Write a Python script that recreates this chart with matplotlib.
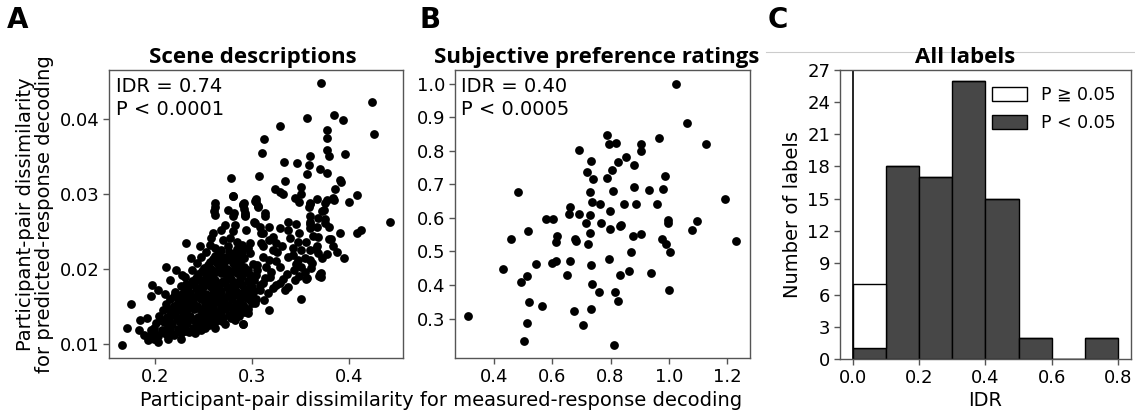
import numpy as np
import matplotlib
matplotlib.use("Agg")
import matplotlib.pyplot as plt
from matplotlib.patches import Patch
from matplotlib.lines import Line2D

plt.rcParams['font.family'] = ['DejaVu Sans', 'Noto Sans CJK JP']

# --- panel A: scene descriptions ---
scene_pts = [
    # sparse upper / right points
    (0.371, 0.0448), (0.4245, 0.0423), (0.426, 0.0380), (0.443, 0.0262), (0.357, 0.0401),
    (0.385, 0.0405), (0.394, 0.0399), (0.329, 0.0390), (0.312, 0.0373), (0.310, 0.0355),
    (0.378, 0.0385), (0.378, 0.0375), (0.378, 0.0359), (0.380, 0.0350), (0.396, 0.0353),
    (0.360, 0.0350), (0.359, 0.0338), (0.357, 0.0327), (0.370, 0.0333), (0.377, 0.0328),
    (0.333, 0.0342), (0.346, 0.0341), (0.334, 0.0317), (0.351, 0.0309), (0.278, 0.0321),
    (0.307, 0.0324), (0.324, 0.0306), (0.329, 0.0303), (0.332, 0.0300), (0.344, 0.0294),
    (0.349, 0.0289), (0.280, 0.0297), (0.360, 0.0288), (0.367, 0.0293), (0.377, 0.0292),
    (0.384, 0.0295), (0.391, 0.0318), (0.386, 0.0307), (0.408, 0.0299), (0.400, 0.0289),
    (0.262, 0.0288), (0.261, 0.0277), (0.292, 0.0288), (0.293, 0.0275), (0.304, 0.0293),
    (0.313, 0.0274), (0.372, 0.0277), (0.375, 0.0266), (0.360, 0.0270), (0.360, 0.0260),
    (0.368, 0.0268), (0.380, 0.0240), (0.367, 0.0231), (0.408, 0.0248), (0.413, 0.0252),
    (0.349, 0.0190), (0.369, 0.0190), (0.371, 0.0194), (0.351, 0.0160), (0.334, 0.0172),
    (0.317, 0.0145), (0.291, 0.0127), (0.357, 0.0188), (0.351, 0.0300), (0.3596, 0.0286),
    (0.3585, 0.0282), (0.375, 0.0288), (0.3916, 0.0316), (0.3847, 0.0292),
    # middle arm
    (0.374, 0.0278), (0.375, 0.0261), (0.291, 0.0286), (0.292, 0.0280), (0.3044, 0.0289),
    (0.3061, 0.0284), (0.281, 0.0274), (0.2923, 0.0270), (0.302, 0.0263), (0.3138, 0.0270),
    (0.282, 0.0259), (0.280, 0.0250), (0.2768, 0.0241), (0.294, 0.0252), (0.308, 0.0256),
    (0.318, 0.0256), (0.3286, 0.0254), (0.337, 0.0263), (0.3458, 0.0260), (0.337, 0.0252),
    (0.3485, 0.0248), (0.3596, 0.0263), (0.3596, 0.0254), (0.367, 0.0256), (0.363, 0.0244),
    (0.3813, 0.0240), (0.3389, 0.0241), (0.3475, 0.0236), (0.3562, 0.0236), (0.3423, 0.0228),
    (0.351, 0.0225), (0.3596, 0.0225), (0.368, 0.0221), (0.3371, 0.0216), (0.3475, 0.0212),
    (0.3596, 0.0212), (0.351, 0.0203), (0.3613, 0.0201), (0.3562, 0.0187), (0.370, 0.0193),
    (0.3717, 0.0189), (0.344, 0.0185), (0.332, 0.0187), (0.3371, 0.0176),
    (0.3113, 0.0248), (0.3216, 0.0243), (0.2975, 0.0234), (0.3113, 0.0230), (0.3216, 0.0225),
    (0.2975, 0.0221), (0.3113, 0.0216), (0.325, 0.0211), (0.2872, 0.0211), (0.301, 0.0207),
    (0.3148, 0.0203), (0.3286, 0.0203), (0.2906, 0.0194), (0.3044, 0.0192), (0.3182, 0.0189),
    (0.2837, 0.0181), (0.2975, 0.0181), (0.3113, 0.0181), (0.325, 0.0179),
    (0.300, 0.0165), (0.308, 0.0172), (0.316, 0.0168), (0.322, 0.0175), (0.329, 0.0181),
    (0.336, 0.0193), (0.343, 0.0198), (0.355, 0.0196), (0.362, 0.0208), (0.372, 0.0214),
    (0.378, 0.0220), (0.366, 0.0226), (0.355, 0.0215), (0.345, 0.0207), (0.300, 0.0155),
    (0.305, 0.0198), (0.312, 0.0158), (0.384, 0.0230), (0.391, 0.0248), (0.380, 0.0256),
    (0.368, 0.0243), (0.388, 0.0222), (0.395, 0.0215), (0.342, 0.0219), (0.331, 0.0230),
    (0.325, 0.0235), (0.318, 0.0238),
    # edge of the dense cloud
    (0.1655, 0.0098), (0.171, 0.0121), (0.1752, 0.0153), (0.1838, 0.0132), (0.1917, 0.0135),
    (0.1831, 0.0118), (0.1883, 0.0112), (0.1924, 0.0105), (0.1986, 0.0107), (0.1959, 0.0118),
    (0.1965, 0.0179), (0.1951, 0.0164), (0.2027, 0.0172), (0.2096, 0.0167), (0.2114, 0.0202),
    (0.2217, 0.0199), (0.2148, 0.0185), (0.231, 0.0189), (0.2372, 0.0214), (0.232, 0.0235),
    (0.2458, 0.0230), (0.2476, 0.0216), (0.258, 0.0241), (0.2596, 0.0248), (0.2682, 0.0252),
    (0.2717, 0.0259), (0.2803, 0.0270), (0.2751, 0.0279), (0.2613, 0.0283), (0.2613, 0.0272),
    (0.2803, 0.0297), (0.2906, 0.0285), (0.2923, 0.0272), (0.3027, 0.0290), (0.3061, 0.0283),
    (0.3027, 0.0261), (0.3096, 0.0248), (0.3096, 0.0234),
    (0.2027, 0.0103), (0.213, 0.0107), (0.2269, 0.0107), (0.2406, 0.0114), (0.2476, 0.0118),
    (0.2613, 0.0121), (0.2717, 0.0127), (0.282, 0.0132), (0.2906, 0.0127), (0.2958, 0.0141),
    (0.3027, 0.0154),
    # dense core
    (0.195, 0.0113), (0.203, 0.0111), (0.211, 0.0113), (0.219, 0.0112), (0.227, 0.0114), (0.235, 0.0116),
    (0.199, 0.0121), (0.207, 0.0119), (0.215, 0.0121), (0.223, 0.0120), (0.231, 0.0122), (0.239, 0.0121),
    (0.247, 0.0124), (0.255, 0.0125),
    (0.201, 0.0128), (0.209, 0.0129), (0.217, 0.0127), (0.225, 0.0129), (0.233, 0.0128), (0.241, 0.0130),
    (0.249, 0.0129), (0.257, 0.0131), (0.265, 0.0132),
    (0.204, 0.0137), (0.212, 0.0136), (0.220, 0.0138), (0.228, 0.0136), (0.236, 0.0137), (0.244, 0.0136),
    (0.252, 0.0138), (0.260, 0.0137), (0.268, 0.0139), (0.276, 0.0138), (0.284, 0.0140),
    (0.208, 0.0145), (0.216, 0.0143), (0.224, 0.0145), (0.232, 0.0144), (0.240, 0.0146), (0.248, 0.0144),
    (0.256, 0.0145), (0.264, 0.0143), (0.272, 0.0146), (0.280, 0.0145), (0.288, 0.0147),
    (0.211, 0.0153), (0.219, 0.0151), (0.227, 0.0152), (0.235, 0.0153), (0.243, 0.0151), (0.251, 0.0153),
    (0.259, 0.0152), (0.267, 0.0154), (0.275, 0.0152), (0.283, 0.0153), (0.291, 0.0152),
    (0.215, 0.0160), (0.223, 0.0161), (0.231, 0.0159), (0.239, 0.0161), (0.247, 0.0160), (0.255, 0.0161),
    (0.263, 0.0159), (0.271, 0.0161), (0.279, 0.0160), (0.287, 0.0162), (0.295, 0.0161),
    (0.220, 0.0169), (0.228, 0.0167), (0.236, 0.0168), (0.244, 0.0169), (0.252, 0.0167), (0.260, 0.0168),
    (0.268, 0.0170), (0.276, 0.0168), (0.284, 0.0169), (0.292, 0.0170), (0.300, 0.0176),
    (0.226, 0.0177), (0.234, 0.0176), (0.242, 0.0175), (0.250, 0.0177), (0.258, 0.0176), (0.266, 0.0178),
    (0.274, 0.0176), (0.282, 0.0177), (0.290, 0.0178),
    (0.238, 0.0184), (0.246, 0.0185), (0.254, 0.0183), (0.262, 0.0185), (0.270, 0.0184), (0.278, 0.0186),
    (0.288, 0.0187),
    (0.244, 0.0193), (0.252, 0.0191), (0.260, 0.0192), (0.268, 0.0194), (0.276, 0.0192), (0.284, 0.0194),
    (0.250, 0.0201), (0.258, 0.0200), (0.266, 0.0202), (0.274, 0.0200), (0.282, 0.0202), (0.292, 0.0203),
    (0.256, 0.0209), (0.264, 0.0208), (0.272, 0.0210), (0.280, 0.0208), (0.288, 0.0210),
    (0.262, 0.0217), (0.270, 0.0216), (0.278, 0.0218), (0.286, 0.0216),
    (0.268, 0.0225), (0.276, 0.0223), (0.284, 0.0226),
    # points between core rows
    (0.199, 0.0116), (0.215, 0.0116), (0.231, 0.0117), (0.206, 0.0132), (0.222, 0.0133),
    (0.238, 0.0133), (0.254, 0.0134), (0.270, 0.0135), (0.212, 0.0148), (0.228, 0.0149),
    (0.244, 0.0148), (0.260, 0.0149), (0.276, 0.0150), (0.292, 0.0149), (0.219, 0.0164),
    (0.235, 0.0165), (0.251, 0.0164), (0.267, 0.0165), (0.283, 0.0166), (0.297, 0.0167),
    (0.232, 0.0180), (0.248, 0.0181), (0.264, 0.0181), (0.280, 0.0182), (0.296, 0.0184),
    (0.256, 0.0196), (0.272, 0.0197), (0.288, 0.0198), (0.268, 0.0212), (0.284, 0.0213),
    (0.207, 0.0116), (0.223, 0.0117), (0.243, 0.0118), (0.251, 0.0121),
    (0.213, 0.0124), (0.229, 0.0125), (0.245, 0.0126), (0.261, 0.0128), (0.269, 0.0130),
    (0.214, 0.0132), (0.230, 0.0132), (0.246, 0.0133), (0.262, 0.0134), (0.278, 0.0135), (0.286, 0.0137),
    (0.216, 0.0140), (0.232, 0.0141), (0.248, 0.0140), (0.264, 0.0141), (0.280, 0.0141), (0.292, 0.0143),
    (0.220, 0.0148), (0.236, 0.0149), (0.252, 0.0148), (0.268, 0.0149), (0.284, 0.0150),
    (0.223, 0.0156), (0.239, 0.0157), (0.255, 0.0156), (0.271, 0.0157), (0.287, 0.0157), (0.298, 0.0158),
    (0.227, 0.0164), (0.243, 0.0164), (0.259, 0.0163), (0.275, 0.0164), (0.291, 0.0165),
    (0.231, 0.0172), (0.247, 0.0172), (0.263, 0.0173), (0.279, 0.0172), (0.295, 0.0173),
    (0.240, 0.0180), (0.256, 0.0180), (0.272, 0.0181), (0.288, 0.0181), (0.302, 0.0185),
    (0.242, 0.0188), (0.258, 0.0188), (0.274, 0.0189), (0.290, 0.0190),
    (0.248, 0.0197), (0.264, 0.0197), (0.280, 0.0197), (0.296, 0.0198),
    (0.254, 0.0205), (0.270, 0.0205), (0.286, 0.0206),
    (0.260, 0.0213), (0.276, 0.0213), (0.292, 0.0214),
    (0.266, 0.0221), (0.282, 0.0221), (0.290, 0.0223),
    (0.252, 0.0222), (0.243, 0.0208), (0.238, 0.0198), (0.228, 0.0192), (0.256, 0.0232),
    (0.270, 0.0238), (0.284, 0.0236), (0.296, 0.0228), (0.290, 0.0232), (0.275, 0.0231),
    (0.262, 0.0228), (0.296, 0.0146), (0.304, 0.0160), (0.308, 0.0178), (0.302, 0.0170),
    (0.313, 0.0188), (0.298, 0.0192), (0.305, 0.0205), (0.320, 0.0196), (0.318, 0.0212),
    (0.326, 0.0222),
]
scene_x, scene_y = np.array(scene_pts).T

# --- panel B: subjective preference ratings ---
pref_x = [1.026, 1.062, 1.129, 0.967, 0.787, 0.793, 0.818, 0.905, 0.904, 0.690,
          0.854, 0.826, 0.734, 0.880, 0.805, 0.719, 0.789, 0.739, 0.988, 0.483,
          0.728, 0.808, 0.881, 0.931, 0.980, 1.195, 0.736, 0.764, 0.847, 0.889,
          0.959, 0.659, 0.657, 0.690, 0.730, 0.799, 0.579, 0.602, 0.716, 0.768,
          0.799, 0.831, 0.837, 0.997, 0.996, 1.096, 1.081, 1.232, 0.515, 0.457,
          0.617, 0.614, 0.679, 0.682, 0.730, 0.723, 0.877, 0.903, 0.978, 0.989,
          1.003, 0.872, 0.431, 0.545, 0.599, 0.614, 0.662, 0.732, 0.794, 0.650,
          0.512, 0.491, 0.736, 0.833, 0.865, 0.938, 0.759, 0.814, 0.826, 1.002,
          0.521, 0.565, 0.674, 0.732, 0.311, 0.512, 0.707, 0.501, 0.811]
pref_y = [1.000, 0.884, 0.819, 0.839, 0.846, 0.819, 0.823, 0.819, 0.799, 0.801,
          0.780, 0.766, 0.770, 0.757, 0.742, 0.737, 0.718, 0.715, 0.725, 0.678,
          0.676, 0.679, 0.691, 0.684, 0.686, 0.656, 0.648, 0.642, 0.640, 0.640,
          0.642, 0.631, 0.611, 0.612, 0.609, 0.621, 0.597, 0.597, 0.586, 0.584,
          0.567, 0.576, 0.578, 0.593, 0.586, 0.592, 0.563, 0.531, 0.562, 0.537,
          0.546, 0.528, 0.536, 0.531, 0.555, 0.521, 0.546, 0.551, 0.538, 0.521,
          0.499, 0.497, 0.447, 0.461, 0.464, 0.470, 0.472, 0.458, 0.476, 0.431,
          0.428, 0.409, 0.402, 0.431, 0.441, 0.436, 0.378, 0.379, 0.353, 0.386,
          0.350, 0.337, 0.323, 0.328, 0.309, 0.287, 0.282, 0.233, 0.222]

# --- panel C: histogram of IDR over labels ---
bin_edges = [0.0, 0.1, 0.2, 0.3, 0.4, 0.5, 0.6, 0.7, 0.8]
count_sig = [1, 18, 17, 26, 15, 2, 0, 2]
count_nonsig = [6, 0, 0, 0, 0, 0, 0, 0]

fig = plt.figure(figsize=(11.35, 4.15), dpi=100)

spine_col = '#555555'
tick_fs = 13
label_fs = 14
title_kw = dict(fontsize=16, fontweight='bold', family=['Open Sans', 'DejaVu Sans'], pad=5)
dot_s = 40


def style(ax):
    for s in ax.spines.values():
        s.set_color(spine_col)
        s.set_linewidth(1.0)
    ax.tick_params(direction='out', length=4, width=1, color=spine_col,
                   labelsize=tick_fs, pad=3)


# A
axA = fig.add_axes([0.096, 0.137, 0.259, 0.694])
axA.scatter(scene_x, scene_y, s=dot_s, color='black', linewidths=0)
axA.set_xlim(0.152, 0.456)
axA.set_ylim(0.0081, 0.0465)
axA.set_xticks([0.2, 0.3, 0.4])
axA.set_yticks([0.01, 0.02, 0.03, 0.04])
axA.set_title('Scene descriptions', x=0.49, **title_kw)
axA.set_ylabel('Participant-pair dissimilarity\nfor predicted-response decoding',
               fontsize=label_fs, labelpad=4, linespacing=1.0)
axA.text(0.025, 0.975, 'IDR = 0.74\nP < 0.0001', transform=axA.transAxes,
         fontsize=14, va='top', ha='left', linespacing=1.25)
style(axA)

# B
axB = fig.add_axes([0.401, 0.137, 0.260, 0.694])
axB.scatter(pref_x, pref_y, s=dot_s, color='black', linewidths=0)
axB.set_xlim(0.266, 1.28)
axB.set_ylim(0.182, 1.04)
axB.set_xticks([0.4, 0.6, 0.8, 1.0, 1.2])
axB.set_yticks([0.3, 0.4, 0.5, 0.6, 0.7, 0.8, 0.9, 1.0])
axB.set_title('Subjective preference ratings', x=0.48, **title_kw)
axB.text(0.02, 0.975, 'IDR = 0.40\nP < 0.0005', transform=axB.transAxes,
         fontsize=14, va='top', ha='left', linespacing=1.25)
style(axB)

fig.text(0.389, 0.012, 'Participant-pair dissimilarity for measured-response decoding',
         ha='center', va='bottom', fontsize=label_fs)

# C
axC = fig.add_axes([0.740, 0.135, 0.2565, 0.696])
lefts = bin_edges[:-1]
axC.bar(lefts, count_sig, width=0.1, align='edge', color='#474747',
        edgecolor='black', linewidth=1.0)
axC.bar(lefts, count_nonsig, width=0.1, align='edge', bottom=count_sig,
        color='white', edgecolor='black', linewidth=1.0)
axC.axvline(0.0, color='black', linewidth=1.2)
axC.set_xlim(-0.04, 0.84)
axC.set_ylim(0, 27)
axC.set_xticks([0.0, 0.2, 0.4, 0.6, 0.8])
axC.set_yticks(range(0, 28, 3))
axC.set_xlabel('IDR', fontsize=label_fs, labelpad=3)
axC.set_ylabel('Number of labels', fontsize=label_fs, labelpad=4)
axC.set_title('All labels', x=0.43, **title_kw)
handles = [Patch(facecolor='white', edgecolor='black', label='P ≧ 0.05'),
           Patch(facecolor='#474747', edgecolor='black', label='P < 0.05')]
axC.legend(handles=handles, loc='upper right', frameon=False, fontsize=12.5,
           handlelength=2.0, handleheight=0.85, borderaxespad=0.5,
           handletextpad=0.8, labelspacing=0.6)
style(axC)

# thin grey rule above panel C
fig.add_artist(Line2D([0.675, 1.0], [0.875, 0.875], color='#cccccc', linewidth=0.8,
                      zorder=0))

for lbl, x in [('A', 0.006), ('B', 0.370), ('C', 0.676)]:
    fig.text(x, 0.985, lbl, fontsize=20, fontweight='bold', va='top', ha='left')

fig.savefig('out.png', dpi=100)
